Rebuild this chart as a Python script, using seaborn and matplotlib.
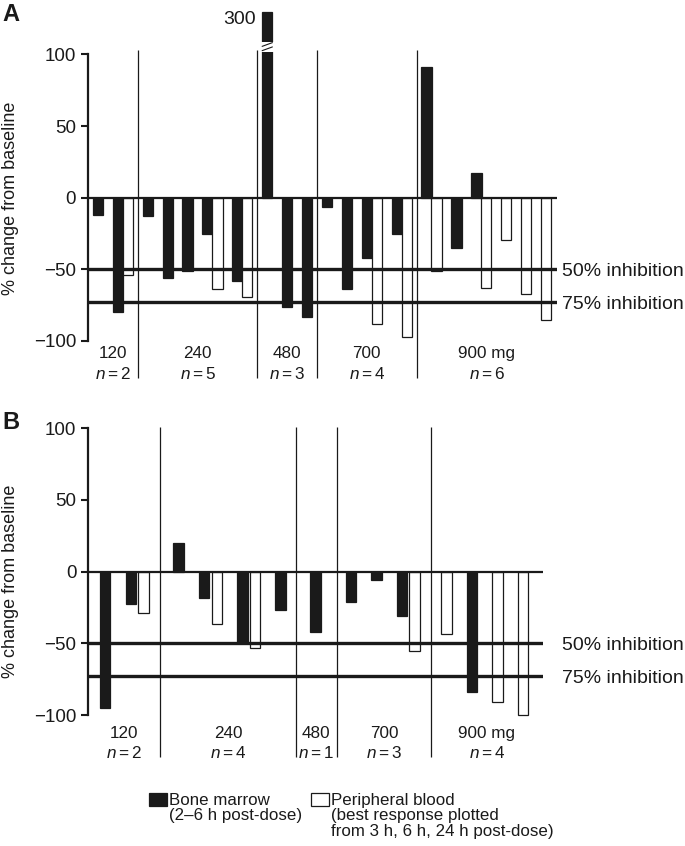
import numpy as np
import pandas as pd
import matplotlib
matplotlib.use("Agg")
import matplotlib.pyplot as plt
import seaborn as sns
from matplotlib.patches import Patch, Rectangle
from matplotlib.transforms import blended_transform_factory

sns.set_theme(style="white")
plt.rcParams["font.family"] = ["Liberation Sans", "DejaVu Sans"]
plt.rcParams["mathtext.fontset"] = "custom"
plt.rcParams["mathtext.rm"] = "Liberation Sans"
plt.rcParams["mathtext.it"] = "Liberation Sans:italic"

# ---------------- data ----------------
TISSUES = ["Bone marrow", "Peripheral blood"]

# Panel A
A_DOSES = ["120", "240", "480", "700", "900 mg"]
A_N = [2, 5, 3, 4, 6]
A_BM_POS = [0, 2, 5, 7, 9, 11, 14, 17, 19, 21, 23, 25, 27, 30, 33, 36, 38]
A_BM_VAL = [-12, -80, -13, -56, -51, -25, -58, 300, -76, -83, -6.5, -64, -42, -25, 91, -35, 17]
A_PB_POS = [3, 12, 15, 28, 31, 34, 39, 41, 43, 45]
A_PB_VAL = [-54, -64, -69, -88, -97, -51, -63, -29.5, -67, -85]

# Panel B
B_DOSES = ["120", "240", "480", "700", "900 mg"]
B_N = [2, 4, 1, 3, 4]
B_BM_POS = [0, 2, 5.75, 7.75, 10.75, 13.75, 16.5, 19.25, 21.25, 23.25, 28.75]
B_BM_VAL = [-95, -22.5, 20, -18, -50, -26.5, -42, -21, -6, -31, -84]
B_PB_POS = [3, 8.75, 11.75, 24.25, 26.75, 30.75, 32.75]
B_PB_VAL = [-28.5, -36.5, -53.5, -55.5, -43.5, -90.5, -100]

INHIBITION_LEVELS = [-50, -73]
INHIBITION_LABELS = ["50% inhibition", "75% inhibition"]

# ---------------- style ----------------
BLACK = "#1a1a1a"
PAL = {"Bone marrow": BLACK, "Peripheral blood": "white"}
CLIP = 129.5

fig = plt.figure(figsize=(6.85, 8.46), dpi=100)
axA = fig.add_axes([0.1285, 0.5495, 0.6847, 0.4455])
axB = fig.add_axes([0.1289, 0.1037, 0.6634, 0.3953])


def draw_panel(ax, bm_pos, bm_val, pb_pos, pb_val, doses, ns, dividers, xlim,
               ylim, width, div_span, lab_y, ylab_xy):
    df = pd.DataFrame({
        "pos": list(bm_pos) + list(pb_pos),
        "value": list(bm_val) + list(pb_val),
        "tissue": [TISSUES[0]] * len(bm_pos) + [TISSUES[1]] * len(pb_pos),
    })
    df["shown"] = np.minimum(df["value"], CLIP)
    sns.barplot(data=df, x="pos", y="shown", hue="tissue", hue_order=TISSUES,
                palette=PAL, native_scale=True, dodge=False, width=width,
                edgecolor=BLACK, linewidth=0.9, errorbar=None, legend=False,
                ax=ax, zorder=2)
    ax.set_xlim(*xlim)
    ax.set_ylim(*ylim)
    for sp in ["top", "right", "bottom"]:
        ax.spines[sp].set_visible(False)
    ax.spines["left"].set_bounds(-100, 100)
    ax.spines["left"].set_linewidth(1.6)
    ax.spines["left"].set_color(BLACK)
    ax.set_yticks([-100, -50, 0, 50, 100])
    ax.tick_params(axis="y", direction="out", length=5, width=1.5,
                   labelsize=13.5, pad=3.5, colors=BLACK, left=True)
    ax.set_xticks([])
    ax.set_xlabel("")
    ax.set_ylabel("% change from baseline", fontsize=13, color=BLACK)
    ax.yaxis.set_label_coords(*ylab_xy)

    ax.axhline(0, color=BLACK, lw=1.6, zorder=3)
    for lev in INHIBITION_LEVELS:
        ax.axhline(lev, color=BLACK, lw=2.4, zorder=3)
    ax.vlines(dividers, div_span[0], div_span[1], color=BLACK, lw=0.9,
              clip_on=False, zorder=3)

    bounds = [xlim[0]] + list(dividers) + [xlim[1]]
    for i, (d, n) in enumerate(zip(doses, ns)):
        cx = (bounds[i] + bounds[i + 1]) / 2
        ax.text(cx, lab_y[0], d, ha="center", va="center", fontsize=12.3,
                color=BLACK, clip_on=False)
        ax.text(cx, lab_y[1], rf"$n={n}$", ha="center", va="center",
                fontsize=12.3, color=BLACK, clip_on=False)

    # broken bars (values beyond the axis)
    for p, v in zip(df["pos"], df["value"]):
        if v > CLIP:
            half = width / 2
            ax.add_patch(Rectangle((p - half - 0.15, 102.0), width + 0.3, 6.6,
                                   facecolor="white", edgecolor="none",
                                   zorder=4))
            ax.plot([p - half, p + half], [102.6, 105.2], color=BLACK, lw=0.8,
                    zorder=5)
            ax.plot([p - half, p + half], [105.6, 108.2], color=BLACK, lw=0.8,
                    zorder=5)
            ax.text(p - 1.1, 124, f"{v:g}", ha="right", va="center",
                    fontsize=14, color=BLACK)

    tr = blended_transform_factory(fig.transFigure, ax.transData)
    for lev, lab in zip(INHIBITION_LEVELS, INHIBITION_LABELS):
        ax.text(0.82, lev, lab, transform=tr, ha="left", va="center_baseline",
                fontsize=14, color=BLACK)


draw_panel(axA, A_BM_POS, A_BM_VAL, A_PB_POS, A_PB_VAL, A_DOSES, A_N,
           dividers=[4, 16, 22, 32], xlim=(-1, 46.1), ylim=(-128, 135),
           width=1.03, div_span=(-126, 103), lab_y=(-109, -123),
           ylab_xy=(-0.148, 0.486))
draw_panel(axB, B_BM_POS, B_BM_VAL, B_PB_POS, B_PB_VAL, B_DOSES, B_N,
           dividers=[4.3, 14.95, 18.15, 25.55], xlim=(-1.33, 34.3),
           ylim=(-130, 103), width=0.82, div_span=(-129, 100.5),
           lab_y=(-112.5, -126.5), ylab_xy=(-0.153, 0.530))

fig.text(0.003, 0.997, "A", fontsize=17, fontweight="bold", va="top",
         ha="left", color=BLACK)
fig.text(0.003, 1 - 411 / 846, "B", fontsize=17, fontweight="bold", va="top",
         ha="left", color=BLACK)

handles = [Patch(facecolor=BLACK, edgecolor=BLACK, lw=0.9),
           Patch(facecolor="white", edgecolor=BLACK, lw=0.9)]
labels = ["Bone marrow\n(2\u20136 h post-dose)",
          "Peripheral blood\n(best response plotted\nfrom 3 h, 6 h, 24 h post-dose)"]
leg = fig.legend(handles, labels, ncol=2, frameon=False, fontsize=12.2,
                 loc="upper left", bbox_to_anchor=(149 / 685, 1 - 793 / 846),
                 handlelength=1.05, handleheight=0.8, handletextpad=0.15,
                 columnspacing=0.5, borderpad=0, borderaxespad=0,
                 labelspacing=0.2)
for t in leg.get_texts():
    t.set_linespacing(1.03)
    t.set_color(BLACK)
leg._legend_handle_box.align = "top"
for col in leg._legend_handle_box.get_children():
    col.align = "left"
    for item in col.get_children():
        item.align = "top"

fig.savefig("out.png", dpi=100)
